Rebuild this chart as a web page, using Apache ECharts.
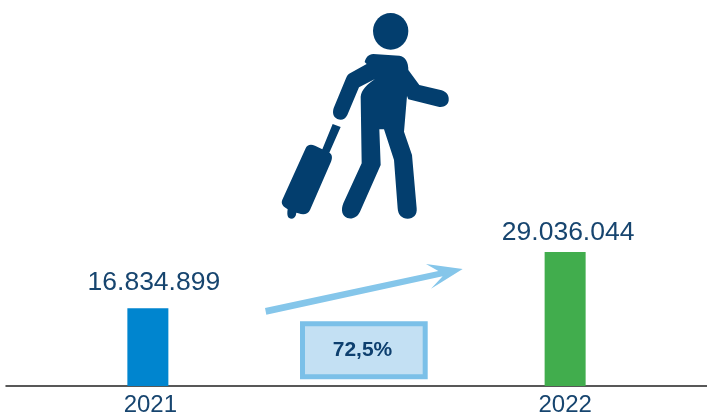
<!DOCTYPE html>
<html>
<head>
<meta charset="utf-8">
<title>Passengers 2021-2022</title>
<script src="https://cdn.jsdelivr.net/npm/echarts@6/dist/echarts.min.js"></script>
<style>
html, body { margin: 0; padding: 0; background: #fff; }
#chart { width: 707px; height: 418px; }
</style>
</head>
<body>
<div id="chart"></div>
<script>
var years = [2021, 2022];
var passengers = [16834899, 29036044];
var barColors = ['#0085cf', '#41ad4d'];
var labelOffsets = [[6, -1], [3, 5]];
var changeLabel = '72,5%';

// traveller icon and arrow, traced at 3x from the top left of their box
var headPath = 'M392 39C421 39 445 63 445 93C445 124 421 149 392 149C363 149 339 124 339 93C339 63 363 39 392 39Z';
var bodyPath = 'M314 186C318 172 325 163 340 162L418 167C436 170 445 186 445 210L478 255L545 271C561 276 568 288 566 302C563 316 551 323 535 320L445 298L441 288L432 395L456 465L470 625C472 645 460 656 443 656C426 656 414 645 413 625L402 480L372 388L358 388L362 495L300 635C292 652 277 658 262 654C246 649 242 630 250 610L305 490L302 290C304 270 322 252 345 237L297 262L262 345C254 360 243 362 232 357C219 351 216 337 222 322L258 235C261 227 265 223 270 220L320 192Z';
var casePath = 'M137 445C141 435 151 431 165 437L187 448L218 372L242 381L208 458C218 464 217 475 213 485L150 630C143 644 130 645 115 640L109 638C108 650 102 656 93 656C84 655 80 648 83 628L72 620C64 612 64 606 68 597Z';
var arrowPath = 'M45 174L565 63L528 42L638 57L543 116L578 79L49 194Z';

// the graphic component has no plain path type, so register the traced ones
echarts.graphic.registerShape('headIcon', echarts.graphic.extendPath(headPath));
echarts.graphic.registerShape('bodyIcon', echarts.graphic.extendPath(bodyPath));
echarts.graphic.registerShape('caseIcon', echarts.graphic.extendPath(casePath));
echarts.graphic.registerShape('arrowIcon', echarts.graphic.extendPath(arrowPath));

var myChart = echarts.init(document.getElementById('chart'));

var option = {
	animation: false,
	grid: { left: 6, right: 0, top: 0, bottom: 32 },
	xAxis: {
		type: 'value',
		min: 2020.66,
		max: 2022.34,
		splitLine: { show: false },
		axisTick: { show: false },
		axisLine: { show: true, onZero: false, lineStyle: { color: '#222222', width: 1.5 } },
		axisLabel: {
			customValues: years,
			formatter: function (value) {
				// the first year sits a little right of its bar
				return value == years[0] ? '{first|' + value + '}' : String(value);
			},
			rich: {
				first: {
					color: '#17456f',
					fontFamily: 'Liberation Sans',
					fontSize: 24,
					padding: [0, 0, 0, 5]
				}
			},
			color: '#17456f',
			fontFamily: 'Liberation Sans',
			fontSize: 24,
			margin: 7
		}
	},
	yAxis: {
		type: 'value',
		min: 0,
		max: 83640000,
		show: false
	},
	series: [{
		type: 'bar',
		barWidth: 41,
		data: years.map(function (year, i) {
			return {
				value: [year, passengers[i]],
				itemStyle: { color: barColors[i] },
				label: { offset: labelOffsets[i] }
			};
		}),
		label: {
			show: true,
			position: 'top',
			distance: 11,
			color: '#17456f',
			fontFamily: 'Liberation Sans',
			fontSize: 26.5,
			formatter: function (params) {
				return String(params.value[1]).replace(/\B(?=(\d{3})+$)/g, '.');
			}
		}
	}],
	graphic: [
		{ type: 'headIcon', x: 260, y: 0, scaleX: 1 / 3, scaleY: 1 / 3, style: { fill: '#033e6e' } },
		{ type: 'bodyIcon', x: 260, y: 0, scaleX: 1 / 3, scaleY: 1 / 3, style: { fill: '#033e6e' } },
		{ type: 'caseIcon', x: 260, y: 0, scaleX: 1 / 3, scaleY: 1 / 3, style: { fill: '#033e6e' } },
		{ type: 'arrowIcon', x: 250, y: 250, scaleX: 1 / 3, scaleY: 1 / 3, style: { fill: '#85c6ea' } },
		{
			type: 'rect',
			shape: { x: 302.5, y: 323.8, width: 122.7, height: 53 },
			style: { fill: '#c3e0f3', stroke: '#7bc0e8', lineWidth: 5 }
		},
		{
			type: 'text',
			x: 362.5,
			y: 350,
			style: {
				text: changeLabel,
				fill: '#0d3f6e',
				font: 'bold 21px "Liberation Sans"',
				align: 'center',
				verticalAlign: 'middle'
			}
		}
	]
};

myChart.setOption(option);
</script>
</body>
</html>
